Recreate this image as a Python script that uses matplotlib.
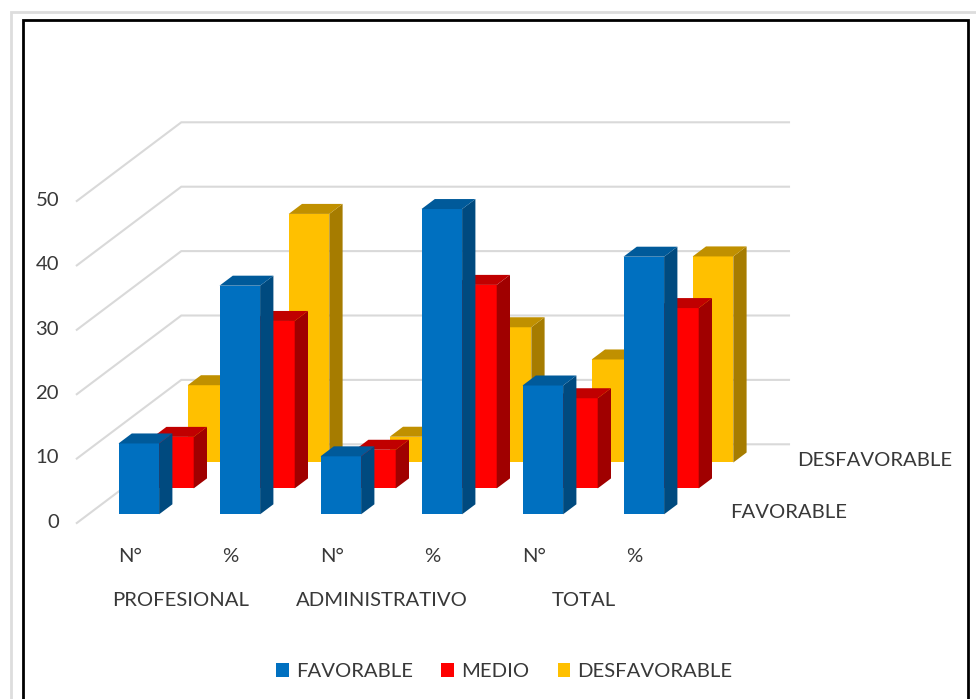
import matplotlib
matplotlib.use("Agg")
import matplotlib.pyplot as plt
from matplotlib.patches import Polygon, Patch
from matplotlib.lines import Line2D

plt.rcParams['font.family'] = ['Lato', 'DejaVu Sans']

# Survey results per staff group: count (N°) and share (%)
measures = ["N°", "%", "N°", "%", "N°", "%"]
groups = ["PROFESIONAL", "ADMINISTRATIVO", "TOTAL"]
series_names = ["FAVORABLE", "MEDIO", "DESFAVORABLE"]
favorable = [11, 35.5, 9, 47.4, 20, 40]
medio = [8, 26, 6, 31.6, 14, 28]
desfavorable = [12, 38.6, 4, 21, 16, 32]
value_ticks = [0, 10, 20, 30, 40, 50]

front_colors = ["#0070C0", "#FF0000", "#FFC000"]
side_colors = ["#004A7F", "#A00000", "#A67C00"]
top_colors = ["#005A9A", "#C00000", "#C09000"]
text_color = "#383838"
grid_color = "#D9D9D9"
FONT_SIZE = 14.6

W, H = 976, 699
PX_X = 101.0      # pixels per category
PX_Y = 6.44       # pixels per value unit
ORIGIN_X = 138.8  # pixel column of the first front bar's centre
ORIGIN_Y = 514.3  # pixel row of value 0 on the front row

fig = plt.figure(figsize=(W / 100, H / 100), dpi=100)
ax = fig.add_axes([0, 0, 1, 1])
ax.set_xlim(-ORIGIN_X / PX_X, (W - ORIGIN_X) / PX_X)
ax.set_ylim((ORIGIN_Y - H) / PX_Y, ORIGIN_Y / PX_Y)
ax.axis("off")

# Oblique projection offsets, in data units
BAR_W = 40.6 / PX_X
ROW_DX, ROW_DY = 34.6 / PX_X, 25.9 / PX_Y     # from one series row to the next
BAR_DX, BAR_DY = 13.3 / PX_X, 10.0 / PX_Y     # depth of a single bar
FLOOR_DX, FLOOR_DY = -11.7 / PX_X, -8.7 / PX_Y  # front edge of the floor
WALL_DX, WALL_DY = 104.5 / PX_X, 78.7 / PX_Y   # front edge to back wall
WALL_END = (789 - ORIGIN_X) / PX_X


def px_x(px):
    return (px - ORIGIN_X) / PX_X


def px_y(py):
    return (ORIGIN_Y - py) / PX_Y


# Outer frames, open at the bottom edge
ax.add_line(Line2D([px_x(11), px_x(11), px_x(976)], [px_y(699), px_y(12), px_y(12)],
                   color="#DDDDDD", lw=2.0, solid_joinstyle="miter"))
ax.add_line(Line2D([px_x(23), px_x(23), px_x(968), px_x(968)],
                   [px_y(699), px_y(20.5), px_y(20.5), px_y(699)],
                   color="black", lw=2.0, solid_joinstyle="miter"))

# Gridlines: diagonal on the side wall, horizontal on the back wall
for v in value_ticks:
    x0, y0 = FLOOR_DX + px_x(88.5), v + FLOOR_DY
    x1, y1 = x0 + WALL_DX, y0 + WALL_DY
    ax.plot([x0, x1, WALL_END], [y0, y1, y1], color=grid_color, lw=1.5,
            solid_joinstyle="miter", zorder=1)
    ax.text(px_x(59), v + FLOOR_DY + 0.1, str(v), ha="right", va="center",
            fontsize=FONT_SIZE, color=text_color)


def draw_bar(i, row, value, order):
    left = i - BAR_W / 2 + row * ROW_DX
    right = left + BAR_W
    base = row * ROW_DY
    top = base + value
    z = 10 + order
    ax.add_patch(Polygon([(left, base), (right, base), (right, top), (left, top)],
                         closed=True, fc=front_colors[row], ec="none", zorder=z))
    ax.add_patch(Polygon([(right, base), (right + BAR_DX, base + BAR_DY),
                          (right + BAR_DX, top + BAR_DY), (right, top)],
                         closed=True, fc=side_colors[row], ec="none", zorder=z))
    ax.add_patch(Polygon([(left, top), (right, top), (right + BAR_DX, top + BAR_DY),
                          (left + BAR_DX, top + BAR_DY)],
                         closed=True, fc=top_colors[row], ec="none", zorder=z))


# Back row first so that the nearer rows overlap it
rows = [desfavorable, medio, favorable]
row_ids = [2, 1, 0]
order = 0
for row, values in zip(row_ids, rows):
    for i, v in enumerate(values):
        draw_bar(i, row, v, order)
        order += 1

# Category labels under the floor
for i, m in enumerate(measures):
    ax.text(i - 0.09, px_y(557), m, ha="center", va="center", fontsize=FONT_SIZE, color=text_color)
for k, g in enumerate(groups):
    ax.text(2 * k + 0.41, px_y(601), g, ha="center", va="center", fontsize=FONT_SIZE, color=text_color)

# Series labels along the depth axis
ax.text(px_x(730), px_y(513), series_names[0], ha="left", va="center", fontsize=FONT_SIZE, color=text_color)
ax.text(px_x(797), px_y(460), series_names[2], ha="left", va="center", fontsize=FONT_SIZE, color=text_color)

# Legend along the bottom
handles = [Patch(fc=c, ec="none", label=n) for c, n in zip(front_colors, series_names)]
ax.legend(handles=handles, loc="center", bbox_to_anchor=(504.5 / W, 1 - 671.5 / H),
          bbox_transform=fig.transFigure, ncols=3, frameon=False, fontsize=FONT_SIZE,
          labelcolor=text_color, handlelength=0.64, handleheight=0.64,
          handletextpad=0.35, columnspacing=1.38, borderpad=0)

fig.savefig("out.png", dpi=100, facecolor="white")
